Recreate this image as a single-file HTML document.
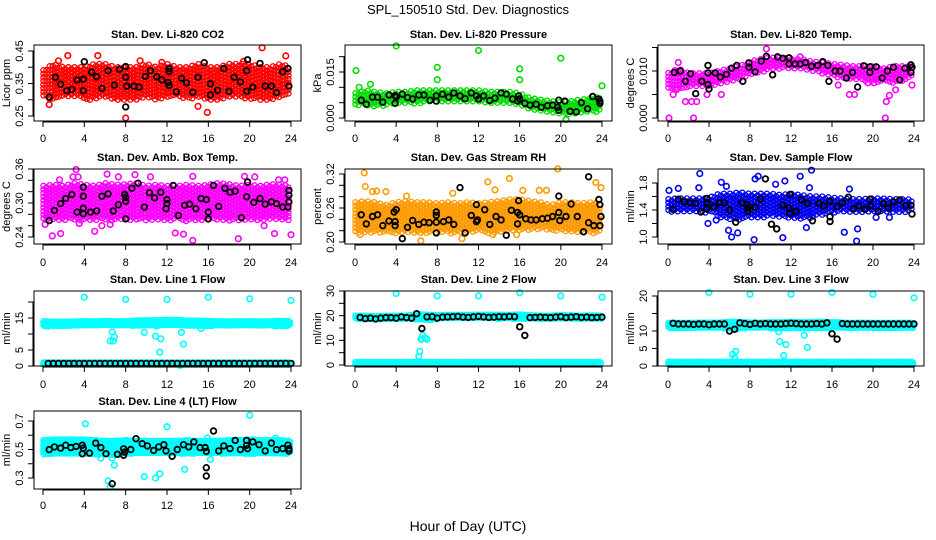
<!DOCTYPE html>
<html><head><meta charset="utf-8"><style>
html,body{margin:0;padding:0;background:#fff}
svg{display:block;font-family:"Liberation Sans",sans-serif}
</style></head><body>
<svg id="chart" width="936" height="540" viewBox="0 0 936 540" xmlns="http://www.w3.org/2000/svg">
<rect width="936" height="540" fill="#fff"/>
<text x="468" y="14" text-anchor="middle" font-size="13">SPL_150510  Std. Dev. Diagnostics</text>
<text x="468" y="531" text-anchor="middle" font-size="14">Hour of Day (UTC)</text>
</svg>
<script>
// ---------- data ----------
const xTicks = [0,4,8,12,16,20,24];
const bandHours = [0,1,2,3,4,5,6,7,8,9,10,11,12,13,14,15,16,17,18,19,20,21,22,23,24];
const halfHours = [0.5,1,1.5,2,2.5,3,3.5,4,4.5,5,5.5,6,6.5,7,7.5,8,8.5,9,9.5,10,10.5,11,11.5,12,12.5,13,13.5,14,14.5,15,15.5,16,16.5,17,17.5,18,18.5,19,19.5,20,20.5,21,21.5,22,22.5,23,23.5,24];

// P1 CO2
const p1Lo = [0.31,0.30,0.31,0.31,0.30,0.30,0.31,0.30,0.30,0.30,0.31,0.30,0.31,0.31,0.30,0.31,0.30,0.30,0.31,0.31,0.30,0.30,0.30,0.31,0.32];
const p1Hi = [0.39,0.41,0.40,0.40,0.40,0.41,0.41,0.40,0.40,0.40,0.41,0.40,0.41,0.40,0.40,0.41,0.40,0.40,0.41,0.41,0.41,0.40,0.40,0.41,0.40];
const p1OutH = [2.4,5.3,21.2,23.5,8.0,15.9,0.6,15.0,9.4,1.5,11.5,19.4];
const p1OutV = [0.436,0.436,0.46,0.435,0.244,0.261,0.285,0.28,0.42,0.42,0.415,0.418];
const p1BlkH = [0.6,1.2,1.7,2.3,2.8,3.3,4.0,3.9,3.9,4.7,5.2,5.7,6.3,6.9,7.4,8.0,8.0,8.1,8.0,8.8,9.3,9.9,10.4,11.0,11.5,12.1,12.2,12.2,12.2,12.9,13.4,13.9,14.5,15.0,15.6,16.2,16.2,16.9,17.5,18.0,18.5,19.1,19.7,19.7,19.8,20.3,21.0,21.5,22.1,22.6,23.2,23.7,23.8];
const p1BlkV = [0.308,0.369,0.348,0.328,0.332,0.361,0.417,0.328,0.363,0.385,0.371,0.335,0.389,0.345,0.394,0.402,0.369,0.342,0.278,0.342,0.339,0.372,0.389,0.371,0.361,0.353,0.387,0.396,0.344,0.324,0.366,0.352,0.323,0.369,0.414,0.349,0.315,0.329,0.396,0.326,0.369,0.355,0.389,0.326,0.423,0.339,0.412,0.342,0.342,0.322,0.386,0.396,0.342];

// P2 Pressure
const p2Lo = [0.004,0.004,0.0035,0.004,0.0045,0.0045,0.0045,0.005,0.005,0.005,0.005,0.005,0.005,0.005,0.005,0.005,0.004,0.003,0.002,0.0015,0.001,0.001,0.0015,0.002,0.002];
const p2Hi = [0.008,0.009,0.0085,0.008,0.0085,0.0085,0.009,0.009,0.009,0.009,0.009,0.009,0.009,0.0085,0.0085,0.0085,0.008,0.0065,0.006,0.0055,0.005,0.0055,0.006,0.0065,0.007];
const p2OutH = [0.1,0.4,1.5,4,8,8,12,16,16,20,24,20.5];
const p2OutV = [0.0155,0.010,0.011,0.0235,0.0165,0.0125,0.022,0.016,0.0125,0.0195,0.0105,-0.0005];
const p2BlkH = [0.6,1.1,1.7,2.2,2.7,3.3,3.9,3.9,4.0,4.6,5.1,5.6,6.2,6.7,7.3,7.9,7.9,8.5,9.1,9.6,10.2,10.7,11.3,11.8,12.0,12.5,13.1,13.6,14.2,14.7,15.3,15.8,15.9,16.0,16.5,17.0,17.6,18.1,18.7,19.2,19.7,19.8,19.8,20.4,20.9,21.5,22.0,22.6,23.1,23.7,23.8,23.8];
const p2BlkV = [0.0058,0.0045,0.0068,0.0068,0.0052,0.0075,0.0073,0.0048,0.0068,0.0078,0.0067,0.0062,0.0075,0.0075,0.0058,0.0072,0.0055,0.0078,0.0068,0.0082,0.0072,0.0063,0.0082,0.0072,0.0062,0.0072,0.0057,0.0065,0.0082,0.0078,0.0062,0.0055,0.0072,0.0062,0.0048,0.0042,0.0045,0.0035,0.0040,0.0042,0.0035,0.0025,0.0058,0.0055,0.0022,0.0020,0.0050,0.0030,0.0070,0.0062,0.0048,0.0055];

// P3 Li-820 Temp
const p3Lo = [0.0065,0.006,0.0065,0.0065,0.0065,0.007,0.0075,0.008,0.009,0.0095,0.0105,0.0105,0.0105,0.0105,0.01,0.0095,0.009,0.0085,0.008,0.008,0.0075,0.0075,0.0075,0.008,0.0085];
const p3Hi = [0.0095,0.0105,0.0095,0.0095,0.0095,0.010,0.0105,0.011,0.012,0.0125,0.0128,0.0128,0.0125,0.0125,0.012,0.0118,0.0115,0.0113,0.011,0.011,0.011,0.0105,0.011,0.011,0.011];
const p3OutH = [0.1,2.5,21.2,1.7,2.3,2.8,0.5,21.3,21.6,17.7,9.6,12.9,0.8,3.8,5.2,16.6,18.2,19.5,20.1,22.2,23.8,1.0];
const p3OutV = [0,0,0,0.0035,0.0035,0.0035,0.005,0.0035,0.0048,0.005,0.0147,0.013,0.006,0.005,0.005,0.007,0.005,0.0075,0.0075,0.006,0.007,0.0118];
const p3BlkH = [0.6,1.2,1.7,2.2,2.7,3.3,3.9,3.9,4.0,3.9,4.6,5.1,5.7,6.2,6.7,7.3,7.9,7.9,8.5,9.1,9.6,10.2,10.7,11.2,11.8,11.8,12.4,12.9,13.4,14.0,14.6,15.1,15.6,15.7,16.3,16.8,17.4,18.0,18.5,19.1,19.7,19.7,20.3,20.9,21.4,22.0,22.6,23.1,23.7,23.7,23.8];
const p3BlkV = [0.0097,0.010,0.0078,0.0094,0.0052,0.0078,0.0112,0.0096,0.0062,0.0071,0.0096,0.0087,0.0093,0.0106,0.0112,0.0078,0.0108,0.0117,0.0098,0.0121,0.0131,0.0092,0.013,0.0127,0.0128,0.0115,0.0115,0.0115,0.0118,0.011,0.0112,0.012,0.0112,0.0078,0.010,0.010,0.0085,0.0097,0.0066,0.0111,0.0097,0.0109,0.0109,0.0085,0.010,0.0108,0.0081,0.0106,0.0113,0.0097,0.0108];

// P4 Amb Box Temp
const p4Lo = [0.27,0.268,0.27,0.268,0.27,0.27,0.268,0.27,0.27,0.268,0.27,0.27,0.268,0.27,0.268,0.27,0.27,0.27,0.268,0.27,0.27,0.268,0.27,0.27,0.27];
const p4Hi = [0.33,0.332,0.33,0.335,0.332,0.33,0.335,0.332,0.333,0.335,0.33,0.332,0.33,0.33,0.332,0.33,0.332,0.335,0.333,0.33,0.332,0.33,0.333,0.332,0.33];
const p4OutH = [0.9,1.7,3.2,2.9,3.4,6.2,7.3,8.9,10.4,14.5,18.9,22.4,24.0,12.8,13.6,5.0,0.2,3.5,14.5,19.5,20.5,22.8,23.4,1.6,6.5,5.7,21.4];
const p4OutV = [0.242,0.246,0.359,0.346,0.346,0.351,0.346,0.35,0.346,0.234,0.237,0.246,0.244,0.247,0.245,0.25,0.262,0.264,0.347,0.347,0.346,0.341,0.341,0.341,0.262,0.26,0.26];
const p4BlkH = [0.6,1.1,1.7,2.2,2.8,3.3,3.9,3.9,3.9,3.9,4.6,5.2,5.7,6.3,6.8,7.3,7.9,8.0,8.0,8.0,8.6,9.2,9.8,10.3,10.8,11.4,11.9,12.0,12.0,12.6,13.1,13.7,14.2,14.8,15.3,15.8,16.0,16.0,16.5,17.0,17.6,18.1,18.6,19.2,19.7,19.8,20.4,21.0,21.5,22.1,22.6,23.2,23.7,23.8,23.8,23.8];
const p4BlkV = [0.269,0.287,0.299,0.308,0.315,0.284,0.328,0.312,0.291,0.281,0.284,0.286,0.312,0.316,0.286,0.297,0.315,0.31,0.303,0.272,0.326,0.335,0.293,0.318,0.309,0.319,0.29,0.299,0.306,0.331,0.278,0.296,0.298,0.29,0.308,0.306,0.284,0.272,0.331,0.294,0.326,0.319,0.321,0.274,0.311,0.337,0.301,0.308,0.298,0.302,0.299,0.293,0.293,0.322,0.314,0.302];

// P5 Gas Stream RH
const p5Lo = [0.215,0.215,0.218,0.215,0.215,0.218,0.215,0.215,0.218,0.215,0.215,0.218,0.218,0.215,0.218,0.218,0.22,0.222,0.222,0.22,0.22,0.218,0.218,0.215,0.218];
const p5Hi = [0.27,0.272,0.27,0.265,0.27,0.272,0.27,0.27,0.268,0.27,0.268,0.27,0.268,0.27,0.272,0.275,0.275,0.272,0.27,0.265,0.27,0.27,0.268,0.27,0.268];
const p5OutH = [0.9,1.0,1.7,2.1,3.0,15.0,19.7,23.4,23.9,12.9,6.4,10.4,15.7,13.4,13.6,16.3,17.9,18.6,5.0,9.5,0.5];
const p5OutV = [0.322,0.298,0.289,0.29,0.289,0.312,0.329,0.305,0.296,0.306,0.202,0.206,0.213,0.213,0.292,0.291,0.291,0.291,0.281,0.286,0.213];
const p5BlkH = [0.6,1.1,1.7,2.2,2.7,3.3,3.8,3.9,3.9,4.0,4.6,5.1,5.6,6.2,6.7,7.2,7.9,7.9,7.9,7.9,8.6,9.1,9.6,10.2,10.7,11.3,11.8,11.8,11.9,12.6,13.1,13.7,14.2,14.7,15.2,15.8,15.8,15.9,16.0,16.6,17.1,17.6,18.2,18.7,19.2,19.8,19.8,19.9,20.5,21.0,21.6,22.2,22.7,22.7,23.2,23.7,23.8,23.9,23.8];
const p5BlkV = [0.248,0.232,0.245,0.248,0.229,0.237,0.253,0.229,0.236,0.257,0.206,0.226,0.238,0.231,0.235,0.234,0.216,0.235,0.247,0.253,0.236,0.239,0.231,0.296,0.216,0.247,0.266,0.236,0.239,0.257,0.231,0.245,0.239,0.212,0.256,0.252,0.232,0.273,0.248,0.241,0.239,0.239,0.241,0.242,0.245,0.281,0.252,0.238,0.245,0.267,0.245,0.218,0.234,0.315,0.229,0.275,0.266,0.245,0.229];

// P6 Sample Flow
const p6Lo = [1.38,1.37,1.37,1.37,1.36,1.3,1.26,1.26,1.28,1.28,1.3,1.3,1.28,1.26,1.28,1.32,1.36,1.37,1.36,1.37,1.37,1.36,1.37,1.37,1.38];
const p6Hi = [1.56,1.57,1.57,1.57,1.58,1.64,1.64,1.66,1.64,1.64,1.64,1.62,1.64,1.62,1.6,1.6,1.58,1.57,1.56,1.56,1.57,1.57,1.56,1.56,1.55];
const p6OutH = [3.1,14.0,12.9,8.4,18.4,17.2,11.2,6.2,6.8,5.9,3.9,18.5,0.1,1.0,3.0,8.5,8.8,17.7,13.8,11.4,5.2,5.7,10.5,20.3,21.6,4.7,13.5];
const p6OutV = [1.94,1.99,1.90,0.96,0.94,1.07,0.99,1.0,1.06,1.10,1.20,1.12,1.69,1.72,1.73,1.86,1.90,1.71,1.73,1.83,1.81,1.75,1.78,1.29,1.29,1.25,1.14];
const p6BlkH = [0.5,1.0,1.6,2.1,2.7,3.2,3.8,3.8,3.8,4.5,5.0,5.5,6.0,6.6,7.2,7.7,7.8,7.8,8.5,9.0,9.5,10.1,10.6,11.2,11.8,11.9,11.9,12.5,13.0,13.6,14.1,14.7,15.2,15.8,15.8,15.8,16.5,17.0,17.6,18.1,18.6,19.2,19.7,19.8,20.5,21.0,21.5,22.0,22.6,23.2,23.7,23.8];
const p6BlkV = [1.41,1.56,1.52,1.51,1.50,1.37,1.57,1.51,1.42,1.45,1.51,1.51,1.40,1.22,1.51,1.48,1.43,1.38,1.44,1.56,1.86,1.19,1.12,1.47,1.43,1.35,1.63,1.38,1.55,1.50,1.24,1.50,1.46,1.53,1.30,1.23,1.45,1.51,1.59,1.42,1.46,1.41,1.56,1.46,1.38,1.50,1.43,1.52,1.55,1.46,1.47,1.34];

// P7 Line 1 Flow
const p7Lo = [12.4,12.3,12.4,12.4,12.5,12.5,12.6,12.5,12.5,12.6,12.7,12.7,12.8,12.7,12.6,12.6,12.5,12.5,12.4,12.5,12.5,12.4,12.5,12.5,12.5];
const p7Hi = [14.0,13.8,13.8,13.9,14.0,14.0,14.1,14.0,14.0,14.2,14.3,14.3,14.4,14.4,14.2,14.2,14.1,14.0,13.9,14.0,14.0,13.9,14.0,14.1,14.0];
const p7Lo2 = [0.5,0.5,0.5,0.5,0.5,0.5,0.5,0.5,0.5,0.5,0.5,0.5,0.5,0.5,0.5,0.5,0.5,0.5,0.5,0.5,0.5,0.5,0.5,0.5,0.5];
const p7Hi2 = [1.1,1.1,1.1,1.1,1.1,1.1,1.1,1.1,1.1,1.1,1.1,1.1,1.1,1.1,1.1,1.1,1.1,1.1,1.1,1.1,1.1,1.1,1.1,1.1,1.1];
const p7OutH = [4,8,12,16,20,24,6.5,6.8,6.7,6.9,9.8,10.9,11.4,11.3,11.0,13.4,13.6,15.3,0.1,13.3];
const p7OutV = [21.5,20.8,20.8,21.5,21,20.5,7.8,7.8,10.6,9.1,10.5,9.3,8.5,4.3,12.5,10.5,6.8,11.7,0.8,0.2];
const p7BlkV = [0.8,0.8,0.8,0.8,0.8,0.8,0.8,0.8,0.8,0.8,0.8,0.8,0.8,0.8,0.8,0.8,0.8,0.8,0.8,0.8,0.8,0.8,0.8,0.8,0.8,0.8,0.8,0.8,0.8,0.8,0.8,0.8,0.8,0.8,0.8,0.8,0.8,0.8,0.8,0.8,0.8,0.8,0.8,0.8,0.8,0.8,0.8,0.8];

// P8 Line 2 Flow
const p8Lo = [18.5,18.6,18.5,18.6,18.7,18.7,18.4,18.0,18.7,18.8,18.8,18.8,18.9,18.8,18.8,18.8,18.6,18.7,18.6,18.6,18.7,18.6,18.6,18.6,18.6];
const p8Hi = [20.0,19.9,19.8,19.9,20.0,20.0,20.6,20.4,20.2,20.3,20.3,20.3,20.4,20.3,20.4,20.3,20.5,20.2,20.0,20.0,20.2,20.1,20.0,20.1,20.0];
const p8Lo2 = [0.2,0.2,0.2,0.2,0.2,0.2,0.2,0.2,0.2,0.2,0.2,0.2,0.2,0.2,0.2,0.2,0.2,0.2,0.2,0.2,0.2,0.2,0.2,0.2,0.2];
const p8Hi2 = [1.2,1.2,1.2,1.2,1.2,1.2,1.2,1.2,1.2,1.2,1.2,1.2,1.2,1.2,1.2,1.2,1.2,1.2,1.2,1.2,1.2,1.2,1.2,1.2,1.2];
const p8OutH = [4,8,12,16,20,24,6.2,6.3,6.4,6.5,6.6,6.8,7.0];
const p8OutV = [29,28,28,29.3,28,27.5,3.5,5.5,10.5,10.5,12,11,10.5];
const p8BlkV = [19.3,18.8,19,18.7,19,19.2,19.2,19,19.5,19.2,19,20.8,14.8,19.5,19.6,19,19.4,19.5,19.6,19.7,19.4,19.3,19.5,19.7,19.5,19.3,19.4,19.6,19.5,19.7,19.6,15.5,12,19.2,19.3,19.4,19.3,19.2,19.4,19.6,19.2,19.4,19.6,19.3,19.4,19.2,19.3,19.4];

// P9 Line 3 Flow
const p9Lo = [10.8,10.8,10.8,10.8,10.9,10.8,10.6,10.6,10.8,10.8,10.8,10.7,10.8,10.7,10.8,10.8,10.8,10.8,10.8,10.8,10.8,10.8,10.8,10.8,10.8];
const p9Hi = [12.3,12.3,12.3,12.4,12.4,12.4,12.6,12.6,12.4,12.4,12.5,12.5,12.6,12.5,12.6,12.6,12.5,12.4,12.3,12.4,12.3,12.3,12.3,12.4,12.3];
const p9Lo2 = [0.2,0.2,0.2,0.2,0.2,0.2,0.2,0.2,0.2,0.2,0.2,0.2,0.2,0.2,0.2,0.2,0.2,0.2,0.2,0.2,0.2,0.2,0.2,0.2,0.2];
const p9Hi2 = [1.2,1.2,1.2,1.2,1.2,1.2,1.2,1.2,1.2,1.2,1.2,1.2,1.2,1.2,1.2,1.2,1.2,1.2,1.2,1.2,1.2,1.2,1.2,1.2,1.2];
const p9OutH = [4,8,12,16,20,24,6.3,6.5,6.6,10.9,11.3,11.5,13.3,13.6,10.8];
const p9OutV = [21,20.5,20.5,21,20.5,19.5,3.3,2.5,4.2,7,3,6.1,8.8,5.3,9.8];
const p9BlkV = [12.2,12.0,12.0,12.0,11.9,12.0,12.0,11.8,12.0,12.0,12.0,10.0,10.5,12.3,12.1,11.9,12.2,12.0,12.1,12.0,12.0,12.0,12.1,12.2,12.1,12.0,12.0,12.0,12.1,12.0,12.3,9.2,7.7,12.1,12.0,12.0,12.0,12.0,12.0,12.0,12.0,12.0,12.0,12.0,12.0,12.0,12.0,12.0];

// P10 Line 4 (LT) Flow
const p10Lo = [0.465,0.47,0.47,0.468,0.47,0.465,0.465,0.46,0.47,0.47,0.47,0.47,0.47,0.47,0.47,0.47,0.47,0.47,0.47,0.47,0.47,0.47,0.47,0.47,0.47];
const p10Hi = [0.565,0.57,0.57,0.57,0.57,0.565,0.56,0.56,0.565,0.56,0.56,0.56,0.56,0.56,0.565,0.56,0.56,0.56,0.565,0.565,0.57,0.565,0.565,0.565,0.56];
const p10OutH = [4.1,12,20,6.3,6.5,6.9,9.8,10.9,11.3,13.7,16.2,6.7,5.6,9.6,15.9,22.5];
const p10OutV = [0.68,0.66,0.74,0.28,0.24,0.39,0.31,0.30,0.33,0.36,0.43,0.44,0.44,0.55,0.58,0.58];
const p10BlkH = [0.6,1.1,1.7,2.2,2.7,3.2,3.8,3.8,3.9,4.5,5.1,5.6,6.1,6.7,7.2,7.8,7.8,7.9,8.5,9.0,9.6,10.1,10.7,11.2,11.7,11.9,12.5,13.0,13.6,14.1,14.6,15.2,15.7,15.8,15.8,15.8,16.5,17.0,17.5,18.1,18.6,19.1,19.7,19.7,19.8,20.3,20.9,21.5,22.1,22.6,23.2,23.7,23.8,23.8];
const p10BlkV = [0.499,0.518,0.51,0.53,0.513,0.522,0.53,0.47,0.51,0.475,0.545,0.513,0.47,0.26,0.466,0.459,0.505,0.482,0.5,0.576,0.541,0.525,0.494,0.518,0.534,0.49,0.452,0.5,0.534,0.518,0.553,0.513,0.513,0.487,0.372,0.314,0.63,0.49,0.525,0.506,0.564,0.5,0.564,0.529,0.506,0.553,0.534,0.49,0.545,0.499,0.506,0.53,0.506,0.49];

// ---------- layout (not data) ----------
const cols = [{l:34,r:301,h0:43,h24:291},{l:345,r:612,h0:355,h24:602},{l:658,r:924,h0:668,h24:914}];
const rows = [{t:45,b:121,ty:38,xl:142},{t:169,b:244,ty:161,xl:266},{t:291,b:366,ty:283,xl:388},{t:411,b:489,ty:405,xl:509}];

const panels = [
 {name:'co2',title:'Stan. Dev. Li-820 CO2',ylab:'Licor ppm',c:0,r:0,map:[0.45,51,0.25,116],ticks:[0.25,0.30,0.35,0.40,0.45],labels:['0.25','0.35','0.45'],color:'#ff0000',dense:false,bands:[[p1Lo,p1Hi]],oh:p1OutH,ov:p1OutV,bh:p1BlkH,bv:p1BlkV},
 {name:'pressure',title:'Stan. Dev. Li-820 Pressure',ylab:'kPa',c:1,r:0,map:[0.015,72,0,118],ticks:[0,0.005,0.010,0.015,0.020],labels:['0.000','0.015'],color:'#00dd00',dense:false,bands:[[p2Lo,p2Hi]],oh:p2OutH,ov:p2OutV,bh:p2BlkH,bv:p2BlkV},
 {name:'li820-temp',title:'Stan. Dev. Li-820 Temp.',ylab:'degrees C',c:2,r:0,map:[0.010,71,0,118],ticks:[0,0.005,0.010,0.015],labels:['0.000','0.010'],color:'#ff00ff',dense:false,bands:[[p3Lo,p3Hi]],oh:p3OutH,ov:p3OutV,bh:p3BlkH,bv:p3BlkV},
 {name:'amb-box-temp',title:'Stan. Dev. Amb. Box Temp.',ylab:'degrees C',c:0,r:1,map:[0.36,169,0.24,237],ticks:[0.24,0.26,0.28,0.30,0.32,0.34,0.36],labels:['0.24','0.30','0.36'],color:'#ff00ff',dense:false,bands:[[p4Lo,p4Hi]],oh:p4OutH,ov:p4OutV,bh:p4BlkH,bv:p4BlkV},
 {name:'gas-stream-rh',title:'Stan. Dev. Gas Stream RH',ylab:'percent',c:1,r:1,map:[0.32,174,0.20,242],ticks:[0.20,0.22,0.24,0.26,0.28,0.30,0.32],labels:['0.20','0.26','0.32'],color:'#ff9a00',dense:false,bands:[[p5Lo,p5Hi]],oh:p5OutH,ov:p5OutV,bh:p5BlkH,bv:p5BlkV},
 {name:'sample-flow',title:'Stan. Dev. Sample Flow',ylab:'ml/min',c:2,r:1,map:[1.8,183,1.0,237],ticks:[1.0,1.2,1.4,1.6,1.8],labels:['1.0','1.4','1.8'],color:'#0000ee',dense:false,bands:[[p6Lo,p6Hi]],oh:p6OutH,ov:p6OutV,bh:p6BlkH,bv:p6BlkV},
 {name:'line1-flow',title:'Stan. Dev. Line 1 Flow',ylab:'ml/min',c:0,r:2,map:[15,318,0,366],ticks:[0,5,10,15,20],labels:['0','5','15'],color:'#00ffff',dense:true,bands:[[p7Lo,p7Hi],[p7Lo2,p7Hi2]],oh:p7OutH,ov:p7OutV,bh:halfHours,bv:p7BlkV},
 {name:'line2-flow',title:'Stan. Dev. Line 2 Flow',ylab:'ml/min',c:1,r:2,map:[30,291,0,365],ticks:[0,5,10,15,20,25,30],labels:['0','10','20','30'],color:'#00ffff',dense:true,bands:[[p8Lo,p8Hi],[p8Lo2,p8Hi2]],oh:p8OutH,ov:p8OutV,bh:halfHours,bv:p8BlkV},
 {name:'line3-flow',title:'Stan. Dev. Line 3 Flow',ylab:'ml/min',c:2,r:2,map:[20,296,0,366],ticks:[0,5,10,15,20],labels:['0','5','10','20'],color:'#00ffff',dense:true,bands:[[p9Lo,p9Hi],[p9Lo2,p9Hi2]],oh:p9OutH,ov:p9OutV,bh:halfHours,bv:p9BlkV},
 {name:'line4-flow',title:'Stan. Dev. Line 4 (LT) Flow',ylab:'ml/min',c:0,r:3,map:[0.7,421,0.3,478],ticks:[0.3,0.4,0.5,0.6,0.7],labels:['0.3','0.5','0.7'],color:'#00ffff',dense:true,bands:[[p10Lo,p10Hi]],oh:p10OutH,ov:p10OutV,bh:p10BlkH,bv:p10BlkV}
];

const svg = document.getElementById('chart');
const NS = 'http://www.w3.org/2000/svg';
function mk(parent, tag, attrs, txt){
  const el = document.createElementNS(NS, tag);
  for (const k in attrs) el.setAttribute(k, attrs[k]);
  if (txt !== undefined) el.textContent = txt;
  parent.appendChild(el);
  return el;
}
function circ(x,y,r){ return 'M'+(x-r).toFixed(1)+','+y.toFixed(1)+'a'+r+','+r+' 0 1,0 '+(2*r)+',0a'+r+','+r+' 0 1,0 '+(-2*r)+',0'; }
function interp(arr,h){ const i=Math.min(23,Math.floor(h)); const f=h-i; return arr[i]*(1-f)+arr[i+1]*f; }

panels.forEach(p => {
  const C = cols[p.c], R = rows[p.r];
  const xs = h => C.h0 + (C.h24 - C.h0) * h / 24;
  const ys = v => p.map[1] + (v - p.map[0]) * (p.map[3] - p.map[1]) / (p.map[2] - p.map[0]);
  const g = mk(svg,'g',{});
  
  

  const t = mk(g,'text',{x:(C.l+C.r)/2,y:R.ty,'text-anchor':'middle','font-size':'11','font-weight':'bold'},p.title);
  
  

  const stepH = p.dense ? 0.15 : 0.3;
  const stepY = p.dense ? 2 : 3.6;
  p.bands.forEach(b => {
    let d = '';
    let k = 0;
    for (let h = 0.05; h <= 23.95; h += stepH) {
      const yTop = ys(interp(b[1],h)), yBot = ys(interp(b[0],h));
      const lo = Math.min(yTop,yBot), hi = Math.max(yTop,yBot);
      const off = (k % 2) * stepY / 2;
      for (let y = lo + off; y <= hi + 0.1; y += stepY) d += circ(xs(h), y, 2.6);
      k++;
    }
    const band = mk(g,'path',{d:d,fill:'none',stroke:p.color,'stroke-width':'1.3'});
    
    
  });
  let od = '';
  p.oh.forEach((h,i) => { od += circ(xs(h), ys(p.ov[i]), 2.8); });
  const out = mk(g,'path',{d:od,fill:'none',stroke:p.color,'stroke-width':'1.6'});
  
  
  let bd = '';
  const n = Math.min(p.bh.length, p.bv.length);
  for (let i = 0; i < n; i++) bd += circ(xs(p.bh[i]), ys(p.bv[i]), 2.8);
  const blk = mk(g,'path',{d:bd,fill:'none',stroke:'#000','stroke-width':'1.8'});
  
  

  const box = mk(g,'rect',{x:C.l,y:R.t,width:C.r-C.l,height:R.b-R.t,fill:'none',stroke:'#000','stroke-width':'1'});
  
  

  const xa = mk(g,'g',{});
  
  
  mk(xa,'line',{x1:xs(0),x2:xs(24),y1:R.b+1,y2:R.b+1,stroke:'#000'});
  xTicks.forEach(v => {
    mk(xa,'line',{x1:xs(v),x2:xs(v),y1:R.b,y2:R.b+6,stroke:'#000'});
    const lab = mk(xa,'text',{x:xs(v),y:R.xl,'text-anchor':'middle','font-size':'11'},String(v));
    
    
  });
  const ya = mk(g,'g',{});
  
  
  const yt = p.ticks.map(ys).filter(y => y >= R.t - 1 && y <= R.b + 1);
  if (yt.length) mk(ya,'line',{x1:C.l-1,x2:C.l-1,y1:Math.min(...yt),y2:Math.max(...yt),stroke:'#000'});
  p.ticks.forEach(v => {
    const y = ys(v);
    if (y < R.t - 1 || y > R.b + 1) return;
    mk(ya,'line',{x1:C.l-6,x2:C.l,y1:y,y2:y,stroke:'#000'});
  });
  p.labels.forEach(s => {
    const y = ys(parseFloat(s));
    const lab = mk(ya,'text',{x:C.l-11,y:y,'text-anchor':'middle','font-size':'11',transform:'rotate(-90 '+(C.l-11)+' '+y+')'},s);
    
    
  });
  const yl = mk(g,'text',{x:C.l-24,y:(R.t+R.b)/2,'text-anchor':'middle','font-size':'11',transform:'rotate(-90 '+(C.l-24)+' '+((R.t+R.b)/2)+')'},p.ylab);
  
  
});
</script>
</body></html>
